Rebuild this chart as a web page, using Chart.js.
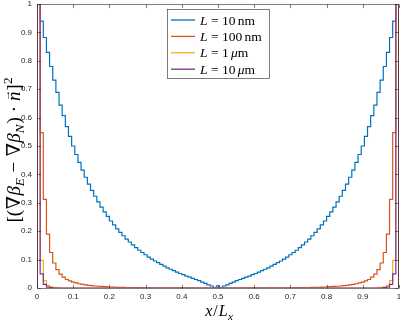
<!DOCTYPE html>
<html>
<head>
<meta charset="utf-8">
<script src="https://cdn.jsdelivr.net/npm/chart.js@4"></script>
<style>
  html, body { margin: 0; padding: 0; background: #fff; }
</style>
</head>
<body>
<canvas id="grafico" width="400" height="321"></canvas>
<script>
// Dados: cada valor é uma célula (degrau) de largura 1/115
const xTicks = [0, 0.1, 0.2, 0.3, 0.4, 0.5, 0.6, 0.7, 0.8, 0.9, 1];
const yTicks = [0, 0.1, 0.2, 0.3, 0.4, 0.5, 0.6, 0.7, 0.8, 0.9, 1];

const valoresL = ['10', '100', '1', '10'];
const unidadesL = ['nm', 'nm', 'μm', 'μm'];
const cores = ['#0072BD', '#D95319', '#EDB120', '#7E2F8E'];

const valores10nm = [
    1.2, 0.94, 0.882, 0.83, 0.78, 0.732, 0.689, 0.644, 0.607, 0.568,
    0.534, 0.50, 0.47, 0.442, 0.415, 0.39, 0.366, 0.344, 0.323, 0.303,
    0.285, 0.268, 0.252, 0.236, 0.222, 0.208, 0.196, 0.184, 0.172, 0.162,
    0.152, 0.142, 0.133, 0.125, 0.117, 0.109, 0.102, 0.095, 0.089, 0.083,
    0.077, 0.071, 0.066, 0.061, 0.056, 0.051, 0.047, 0.042, 0.038, 0.034,
    0.030, 0.026, 0.021, 0.016, 0.011, 0.007, 0.001, 0.008, 0.001, 0.007,
    0.011, 0.016, 0.021, 0.026, 0.030, 0.034, 0.038, 0.042, 0.047, 0.051,
    0.056, 0.061, 0.066, 0.071, 0.077, 0.083, 0.089, 0.095, 0.102, 0.109,
    0.117, 0.125, 0.133, 0.142, 0.152, 0.162, 0.172, 0.184, 0.196, 0.208,
    0.222, 0.236, 0.252, 0.268, 0.285, 0.303, 0.323, 0.344, 0.366, 0.39,
    0.415, 0.442, 0.47, 0.50, 0.534, 0.568, 0.607, 0.644, 0.689, 0.732,
    0.78, 0.83, 0.882, 0.94, 1.2
];

const valores100nm = [
    1.5, 0.547, 0.312, 0.19, 0.125, 0.088, 0.065, 0.049, 0.038, 0.030,
    0.025, 0.021, 0.018, 0.015, 0.013, 0.011, 0.0095, 0.0082, 0.0071, 0.0062,
    0.0054, 0.0047, 0.0041, 0.0036, 0.0031, 0.0027, 0.0024, 0.0021, 0.0018, 0.0016,
    0.0014, 0.0012, 0.001, 0.0009, 0.0008, 0.0007, 0.0006, 0.0005, 0.0004, 0.0004,
    0.0003, 0.0003, 0.0002, 0.0002, 0.0002, 0.0001, 0.0001, 0.0001, 0.0001, 0,
    0, 0, 0, 0, 0, 0, 0, 0, 0, 0,
    0, 0, 0, 0, 0, 0, 0.0001, 0.0001, 0.0001, 0.0001,
    0.0002, 0.0002, 0.0002, 0.0003, 0.0003, 0.0004, 0.0004, 0.0005, 0.0006, 0.0007,
    0.0008, 0.0009, 0.001, 0.0012, 0.0014, 0.0016, 0.0018, 0.0021, 0.0024, 0.0027,
    0.0031, 0.0036, 0.0041, 0.0047, 0.0054, 0.0062, 0.0071, 0.0082, 0.0095, 0.011,
    0.013, 0.015, 0.018, 0.021, 0.025, 0.030, 0.038, 0.049, 0.065, 0.088,
    0.125, 0.19, 0.312, 0.547, 1.5
];

const valores1um = [
    1.5, 0.097, 0.026, 0.009, 0.004, 0.002, 0.001, 0, 0, 0,
    0, 0, 0, 0, 0, 0, 0, 0, 0, 0,
    0, 0, 0, 0, 0, 0, 0, 0, 0, 0,
    0, 0, 0, 0, 0, 0, 0, 0, 0, 0,
    0, 0, 0, 0, 0, 0, 0, 0, 0, 0,
    0, 0, 0, 0, 0, 0, 0, 0, 0, 0,
    0, 0, 0, 0, 0, 0, 0, 0, 0, 0,
    0, 0, 0, 0, 0, 0, 0, 0, 0, 0,
    0, 0, 0, 0, 0, 0, 0, 0, 0, 0,
    0, 0, 0, 0, 0, 0, 0, 0, 0, 0,
    0, 0, 0, 0, 0, 0, 0, 0, 0.001, 0.002,
    0.004, 0.009, 0.026, 0.097, 1.5
];

const valores10um = [
    1.5, 0.05, 0.013, 0.003, 0.001, 0, 0, 0, 0, 0,
    0, 0, 0, 0, 0, 0, 0, 0, 0, 0,
    0, 0, 0, 0, 0, 0, 0, 0, 0, 0,
    0, 0, 0, 0, 0, 0, 0, 0, 0, 0,
    0, 0, 0, 0, 0, 0, 0, 0, 0, 0,
    0, 0, 0, 0, 0, 0, 0, 0, 0, 0,
    0, 0, 0, 0, 0, 0, 0, 0, 0, 0,
    0, 0, 0, 0, 0, 0, 0, 0, 0, 0,
    0, 0, 0, 0, 0, 0, 0, 0, 0, 0,
    0, 0, 0, 0, 0, 0, 0, 0, 0, 0,
    0, 0, 0, 0, 0, 0, 0, 0, 0, 0,
    0.001, 0.003, 0.013, 0.05, 1.5
];

const series = [valores10nm, valores100nm, valores1um, valores10um];

const SERIF = '"Liberation Serif", "DejaVu Serif", serif';
const SANS = '"Liberation Sans", Arial, sans-serif';
const COR_EIXO = '#262626';

// Monta os pontos de degrau: cada célula vai de i/N até (i+1)/N
function montarPontos(valores) {
    const n = valores.length;
    const pontos = [{ x: 0, y: 0 }];
    valores.forEach((v, i) => pontos.push({ x: i / n, y: v }));
    pontos.push({ x: 1, y: valores[n - 1] });
    pontos.push({ x: 1, y: 0 });
    return pontos;
}

// Texto em partes com fontes diferentes (imitando LaTeX)
function fonte(estilo, tam) {
    return (estilo === 'i' ? 'italic ' : '') + tam + 'px ' + SERIF;
}
function larguraPartes(ctx, partes, tam) {
    let w = 0;
    partes.forEach(p => {
        ctx.font = fonte(p.e, tam * (p.s || 1));
        w += ctx.measureText(p.t).width + (p.g || 0);
    });
    return w;
}
function desenharPartes(ctx, partes, x, y, tam) {
    let cx = x;
    partes.forEach(p => {
        const t = tam * (p.s || 1);
        ctx.font = fonte(p.e, t);
        const dy = (p.dy || 0) * tam;
        ctx.fillText(p.t, cx, y + dy);
        const w = ctx.measureText(p.t).width;
        if (p.seta) {
            ctx.font = (tam * 0.6) + 'px ' + SERIF;
            const ws = ctx.measureText('→').width;
            ctx.fillText('→', cx + w / 2 - ws / 2 + 1, y - tam * 0.55);
        }
        cx += w + (p.g || 0);
    });
}

// Moldura dos eixos com marcas para dentro (estilo MATLAB)
const molduraEixos = {
    id: 'molduraEixos',
    afterDatasetsDraw(chart) {
        const { ctx, chartArea: a, scales: { x, y } } = chart;
        ctx.save();
        ctx.strokeStyle = COR_EIXO;
        ctx.lineWidth = 0.6;
        ctx.beginPath();
        const L = a.left + 0.5, R = a.right - 0.5, T = a.top + 0.5, B = a.bottom + 0.5;
        xTicks.forEach(v => {
            const px = Math.round(x.getPixelForValue(v)) + 0.5;
            ctx.moveTo(px, B); ctx.lineTo(px, B - 3.6);
            ctx.moveTo(px, T); ctx.lineTo(px, T + 3.6);
        });
        yTicks.forEach(v => {
            const py = Math.round(y.getPixelForValue(v)) + 0.5;
            ctx.moveTo(L, py); ctx.lineTo(L + 3.6, py);
            ctx.moveTo(R, py); ctx.lineTo(R - 3.6, py);
        });
        ctx.rect(L, T, R - L, B - T);
        ctx.stroke();
        ctx.restore();
    }
};

// Legenda e títulos dos eixos
const textos = {
    id: 'textos',
    afterDraw(chart) {
        const ctx = chart.ctx;
        ctx.save();
        ctx.textBaseline = 'alphabetic';

        // legenda
        const cx = 167.5, cy = 9.5, cw = 102, ch = 69;
        ctx.fillStyle = '#fff';
        ctx.fillRect(cx, cy, cw, ch);
        ctx.strokeStyle = COR_EIXO;
        ctx.lineWidth = 0.6;
        ctx.strokeRect(cx, cy, cw, ch);
        valoresL.forEach((v, i) => {
            const yl = 20 + i * 16.4;
            ctx.strokeStyle = cores[i];
            ctx.lineWidth = 1.3;
            ctx.beginPath();
            ctx.moveTo(171, yl); ctx.lineTo(195, yl);
            ctx.stroke();
            ctx.fillStyle = '#000';
            const partes = [
                { t: 'L', e: 'i', g: 3.5 },
                { t: '=', e: 'r', g: 3.5 },
                { t: v, e: 'r', g: 2.2 },
                { t: unidadesL[i].charAt(0), e: unidadesL[i] === 'μm' ? 'i' : 'r' },
                { t: 'm', e: 'r' }
            ];
            desenharPartes(ctx, partes, 200, yl + 4.6, 13.5);
        });

        // título do eixo x
        const tx = [
            { t: 'x', e: 'i', g: 1 },
            { t: '/', e: 'r', g: 1 },
            { t: 'L', e: 'i', g: 0.3 },
            { t: 'x', e: 'i', s: 0.7, dy: 0.22 }
        ];
        const wx = larguraPartes(ctx, tx, 16);
        ctx.fillStyle = '#000';
        desenharPartes(ctx, tx, 219 - wx / 2, 316, 16);

        // título do eixo y
        const ty = [
            { t: '[(', e: 'r', g: 0.8 },
            { t: '∇', e: 'r', g: 0.3 },
            { t: 'β', e: 'i' },
            { t: 'E', e: 'i', s: 0.7, dy: 0.22, g: 5.5 },
            { t: '−', e: 'r', g: 5.5 },
            { t: '∇', e: 'r', g: 0.3 },
            { t: 'β', e: 'i' },
            { t: 'N', e: 'i', s: 0.7, dy: 0.22, g: 0.8 },
            { t: ')', e: 'r', g: 5 },
            { t: '·', e: 'r', g: 5 },
            { t: 'n', e: 'i', seta: true, g: 0.8 },
            { t: ']', e: 'r', g: 0.3 },
            { t: '2', e: 'r', s: 0.7, dy: -0.42 }
        ];
        const wy = larguraPartes(ctx, ty, 19);
        ctx.translate(20, 150);
        ctx.rotate(-Math.PI / 2);
        desenharPartes(ctx, ty, -wy / 2, 0, 19);
        ctx.restore();
    }
};

const datasets = series.map((valores, i) => ({
    label: 'L = ' + valoresL[i] + ' ' + unidadesL[i],
    data: montarPontos(valores),
    borderColor: cores[i],
    borderWidth: 1.2,
    pointRadius: 0,
    stepped: 'before',
    fill: false,
    order: series.length - i
}));

new Chart(document.getElementById('grafico').getContext('2d'), {
    type: 'line',
    data: { datasets: datasets },
    options: {
        responsive: false,
        animation: false,
        devicePixelRatio: 1,
        layout: { padding: { top: 4, right: 1, left: 0, bottom: 0 } },
        plugins: { legend: { display: false }, tooltip: { enabled: false } },
        scales: {
            x: {
                type: 'linear',
                min: 0,
                max: 1,
                grid: { display: false, drawTicks: false },
                border: { display: false },
                afterBuildTicks: s => { s.ticks = xTicks.map(v => ({ value: v })); },
                ticks: {
                    padding: 4,
                    color: COR_EIXO,
                    font: { family: SANS, size: 8 },
                    maxRotation: 0,
                    callback: v => String(v)
                },
                afterFit: s => { s.height = 33; s.paddingLeft = 0; s.paddingRight = 0; }
            },
            y: {
                type: 'linear',
                min: 0,
                max: 1,
                grid: { display: false, drawTicks: false },
                border: { display: false },
                afterBuildTicks: s => { s.ticks = yTicks.map(v => ({ value: v })); },
                ticks: {
                    padding: 5,
                    color: COR_EIXO,
                    font: { family: SANS, size: 8 },
                    callback: v => String(v)
                },
                afterFit: s => { s.width = 37; s.paddingTop = 0; s.paddingBottom = 0; }
            }
        }
    },
    plugins: [molduraEixos, textos]
});
</script>
</body>
</html>
